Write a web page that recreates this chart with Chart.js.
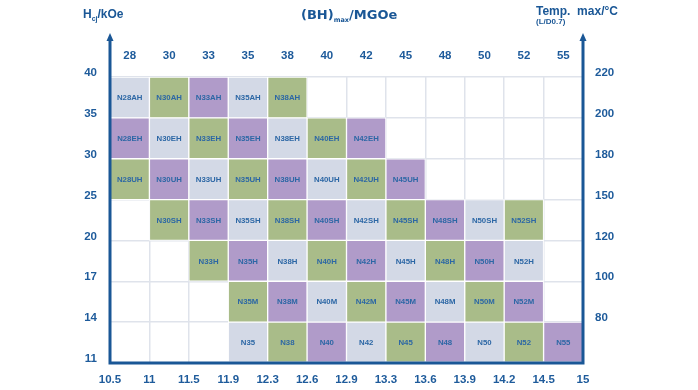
<!DOCTYPE html>
<html lang="en">
<head>
  <meta charset="UTF-8">
  <title>NdFeB grades</title>
  <script src="https://cdn.jsdelivr.net/npm/chart.js@4.4.0/dist/chart.umd.min.js"></script>
  <style>
    html, body { margin: 0; padding: 0; background: #fff; }
    #wrap { width: 698px; height: 390px; }
  </style>
</head>
<body>
  <div id="wrap"><canvas id="grades" width="698" height="390"></canvas></div>
  <script>
    // columns: (BH)max in MGOe, top axis
    const bhMax = ['28', '30', '33', '35', '38', '40', '42', '45', '48', '50', '52', '55'];
    // bottom axis, Br boundaries
    const brTicks = ['10.5', '11', '11.5', '11.9', '12.3', '12.6', '12.9', '13.3', '13.6', '13.9', '14.2', '14.5', '15'];
    // row boundaries, bottom to top
    const hcjTicks = ['11', '14', '17', '20', '25', '30', '35', '40'];
    const tempTicks = ['', '80', '100', '120', '150', '180', '200', '220'];

    // grade rows, bottom to top
    const rowBase = [null, null, null, 'N35', 'N38', 'N40', 'N42', 'N45', 'N48', 'N50', 'N52', 'N55'];
    const rowM    = [null, null, null, 'N35M', 'N38M', 'N40M', 'N42M', 'N45M', 'N48M', 'N50M', 'N52M', null];
    const rowH    = [null, null, 'N33H', 'N35H', 'N38H', 'N40H', 'N42H', 'N45H', 'N48H', 'N50H', 'N52H', null];
    const rowSH   = [null, 'N30SH', 'N33SH', 'N35SH', 'N38SH', 'N40SH', 'N42SH', 'N45SH', 'N48SH', 'N50SH', 'N52SH', null];
    const rowUH   = ['N28UH', 'N30UH', 'N33UH', 'N35UH', 'N38UH', 'N40UH', 'N42UH', 'N45UH', null, null, null, null];
    const rowEH   = ['N28EH', 'N30EH', 'N33EH', 'N35EH', 'N38EH', 'N40EH', 'N42EH', null, null, null, null, null];
    const rowAH   = ['N28AH', 'N30AH', 'N33AH', 'N35AH', 'N38AH', null, null, null, null, null, null, null];

    const rows = [rowBase, rowM, rowH, rowSH, rowUH, rowEH, rowAH];

    const palette = ['#d3d9e6', '#a9bc89', '#b09bc9'];
    const axisBlue = '#1a5796';
    const tickBlue = '#1e5b9b';
    const cellText = '#2c67a5';
    const gridGrey = '#dfe3eb';
    const FONT = '"Liberation Sans", Arial, sans-serif';

    const datasets = rows.map((row, r) => ({
      label: 'row' + r,
      grades: row,
      data: row.map(g => g ? [r, r + 1] : null),
      backgroundColor: row.map((g, c) => palette[(c + r) % 3]),
      borderColor: '#ffffff',
      borderWidth: 1,
      borderSkipped: false,
      barPercentage: 1,
      categoryPercentage: 1,
      grouped: false
    }));

    // cell names + frame, arrows and titles
    const decor = {
      id: 'decor',
      afterDatasetsDraw(chart) {
        const ctx = chart.ctx;
        ctx.save();
        ctx.fillStyle = cellText;
        ctx.font = 'bold 7.8px ' + FONT;
        ctx.textAlign = 'center';
        ctx.textBaseline = 'middle';
        chart.data.datasets.forEach((ds, i) => {
          chart.getDatasetMeta(i).data.forEach((bar, j) => {
            const g = ds.grades[j];
            if (!g) return;
            const p = bar.getProps(['x', 'y', 'base'], true);
            ctx.fillText(g, p.x, (p.y + p.base) / 2 + 0.5);
          });
        });
        ctx.restore();
      },
      afterDraw(chart) {
        const ctx = chart.ctx;
        const a = chart.chartArea;
        const topY = 33;
        ctx.save();
        ctx.strokeStyle = axisBlue;
        ctx.fillStyle = axisBlue;
        ctx.lineWidth = 3;
        ctx.beginPath();
        ctx.moveTo(a.left, topY + 6);
        ctx.lineTo(a.left, a.bottom);
        ctx.lineTo(a.right, a.bottom);
        ctx.lineTo(a.right, topY + 6);
        ctx.stroke();
        [a.left, a.right].forEach(x => {
          ctx.beginPath();
          ctx.moveTo(x, topY);
          ctx.lineTo(x - 3.5, topY + 8);
          ctx.lineTo(x + 3.5, topY + 8);
          ctx.closePath();
          ctx.fill();
        });

        // titles
        ctx.textBaseline = 'alphabetic';
        ctx.textAlign = 'left';
        const big = 'bold 12px ' + FONT;
        const sub = 'bold 7px ' + FONT;
        let x = 83;
        ctx.font = big; ctx.fillText('H', x, 18); x += ctx.measureText('H').width;
        ctx.font = sub; ctx.fillText('cj', x, 21); x += ctx.measureText('cj').width;
        ctx.font = big; ctx.fillText('/kOe', x, 18);

        const wide = 'bold 13px "DejaVu Sans", sans-serif';
        x = 301;
        ctx.font = wide; ctx.fillText('(BH)', x, 19); x += ctx.measureText('(BH)').width;
        ctx.font = 'bold 6.5px "DejaVu Sans", sans-serif'; ctx.fillText('max', x, 22); x += ctx.measureText('max').width;
        ctx.font = wide; ctx.fillText('/MGOe', x, 19);

        ctx.font = big; ctx.fillText('Temp.  max/\u00B0C', 536, 15);
        ctx.font = 'bold 8px ' + FONT; ctx.fillText('(L/D0.7)', 536, 24);
        ctx.restore();
      }
    };

    const tickFont = { family: FONT, size: 11.5, weight: 'bold' };

    new Chart(document.getElementById('grades'), {
      type: 'bar',
      data: { labels: bhMax, datasets },
      options: {
        responsive: false,
        animation: false,
        layout: { padding: 0 },
        plugins: { legend: { display: false }, tooltip: { enabled: false } },
        scales: {
          x: {
            type: 'category',
            position: 'top',
            offset: true,
            grid: { display: false },
            border: { display: false },
            ticks: { color: tickBlue, font: tickFont, padding: 6 },
            afterFit: s => { s.height = 77; }
          },
          x2: {
            type: 'linear',
            position: 'bottom',
            min: 0, max: 12,
            offset: false,
            grid: { color: gridGrey, lineWidth: 1.5, drawTicks: false, offset: false },
            border: { display: false },
            ticks: { stepSize: 1, color: tickBlue, font: tickFont, padding: 10,
              callback: v => brTicks[v] },
            afterFit: s => { s.height = 27; }
          },
          y: {
            type: 'linear',
            position: 'left',
            min: 0, max: 7,
            grid: { color: gridGrey, lineWidth: 1.5, drawTicks: false },
            border: { display: false },
            ticks: { stepSize: 1, color: tickBlue, font: tickFont, padding: 13, labelOffset: -4,
              callback: v => hcjTicks[v] },
            afterFit: s => { s.width = 110; }
          },
          y2: {
            type: 'linear',
            position: 'right',
            min: 0, max: 7,
            grid: { display: false, drawTicks: false },
            border: { display: false },
            ticks: { stepSize: 1, color: tickBlue, font: tickFont, padding: 12, labelOffset: -4,
              callback: v => tempTicks[v] },
            afterFit: s => { s.width = 115; }
          }
        }
      },
      plugins: [decor]
    });
  </script>
</body>
</html>
